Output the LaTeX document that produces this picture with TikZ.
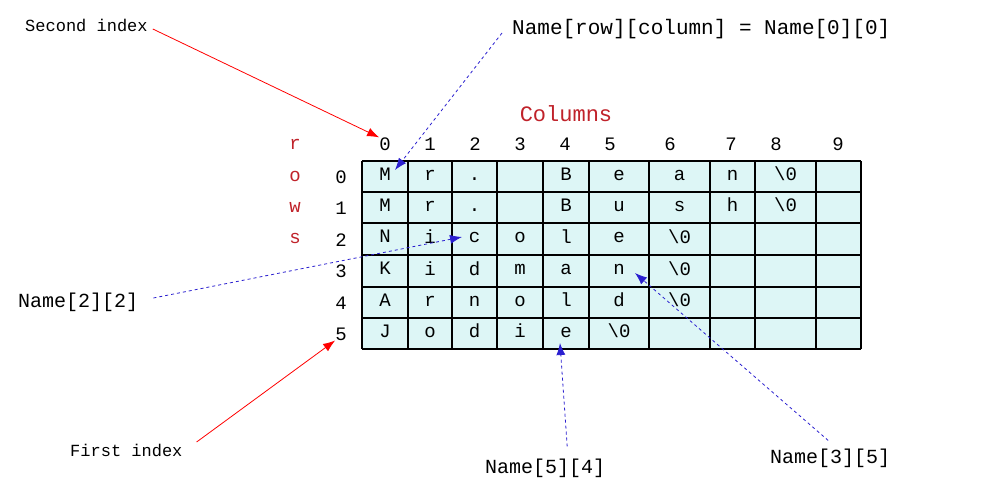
\documentclass[tikz,border=0pt]{standalone}
\usepackage{fontspec}
\setmonofont{Liberation Mono}
\usetikzlibrary{arrows.meta}
\definecolor{cellc}{HTML}{DDF6F6}
\definecolor{redc}{HTML}{C0222A}
\definecolor{bluec}{HTML}{2A1FD0}
\newcommand\putrow[2]{\foreach \t [count=\c] in {#2} {
  \pgfmathsetmacro\cx{{385,430,474.5,520,566,619,679.5,732.5,785.5,838.5}[\c-1]}
  \node[cell] at (\cx,#1) {\strut\t};}}
\begin{document}
\begin{tikzpicture}[x=1pt,y=-1pt,
  lbl/.style={font=\ttfamily\fontsize{19}{19}\selectfont, inner sep=0pt},
  cell/.style={font=\ttfamily\fontsize{19}{19}\selectfont, inner sep=0pt},
  redlbl/.style={lbl, text=redc},
  redarr/.style={draw=red, thick, -{Latex[length=12pt,width=9pt]}},
  bluearr/.style={draw=bluec, thick, dashed, -{Latex[length=12pt,width=9pt]}}]
\useasboundingbox (0,0) rectangle (998,492);
\fill[white] (0,0) rectangle (998,492);
\fill[cellc] (362,161) rectangle (861,349);
\foreach \x in {362,408,452,497,543,589,649,710,755,816,861} \draw[line width=1.2pt] (\x,161) -- (\x,349);
\foreach \y in {161,192,223,255,287,318,349} \draw[line width=1.2pt] (362,\y) -- (861,\y);
\putrow{176.5}{M,r,.,{},B,e,a,n,\textbackslash0}
\putrow{207.5}{M,r,.,{},B,u,s,h,\textbackslash0}
\putrow{239}{N,i,c,o,l,e,\textbackslash0}
\putrow{271}{K,i,d,m,a,n,\textbackslash0}
\putrow{302.5}{A,r,n,o,l,d,\textbackslash0}
\putrow{333.5}{J,o,d,i,e,\textbackslash0}
\foreach \n/\x in {0/385,1/430,2/475,3/520,4/565,5/610,6/670,7/731,8/776,9/838}
  \node[lbl] (c\n) at (\x,144) {\n};
\foreach \n/\y in {0/177,1/208,2/240,3/271,4/303,5/334}
  \node[lbl] (r\n) at (341,\y) {\n};
\foreach \l/\y in {r/144,o/176,w/207,s/238}
  \node[redlbl] at (295,\y) {\l};
\node[redlbl, font=\ttfamily\fontsize{22}{22}\selectfont] (cols) at (566,114) {Columns};
\node[lbl, anchor=west, font=\ttfamily\fontsize{17}{17}\selectfont] (second) at (25,25) {Second index};
\node[lbl, anchor=west, font=\ttfamily\fontsize{21}{21}\selectfont] (rc) at (512,29) {Name[row][column] = Name[0][0]};
\node[lbl, anchor=west, font=\ttfamily\fontsize{20}{20}\selectfont] (n22) at (18,302) {Name[2][2]};
\node[lbl, anchor=west, font=\ttfamily\fontsize{17}{17}\selectfont] (first) at (70,450) {First index};
\node[lbl, anchor=west, font=\ttfamily\fontsize{20}{20}\selectfont] (n54) at (485,468) {Name[5][4]};
\node[lbl, anchor=west, font=\ttfamily\fontsize{20}{20}\selectfont] (n35) at (770,458) {Name[3][5]};
\coordinate (t00) at (395,170);
\coordinate (t22) at (462,237);
\coordinate (t35) at (635,273);
\coordinate (t54) at (560,343);
\draw[redarr] (second.east) ++(5,4) -- (c0.north west);
\draw[redarr] (first.east) ++(14,-8) -- (r5.south west);
\draw[bluearr] (rc.west) ++(-10,4) -- (t00);
\draw[bluearr] (n22.east) ++(15,-4) -- (t22);
\draw[bluearr] (n54.north) ++(22,-12) -- (t54);
\draw[bluearr] (n35.north) ++(-2,-8) -- (t35);
\end{tikzpicture}
\end{document}
